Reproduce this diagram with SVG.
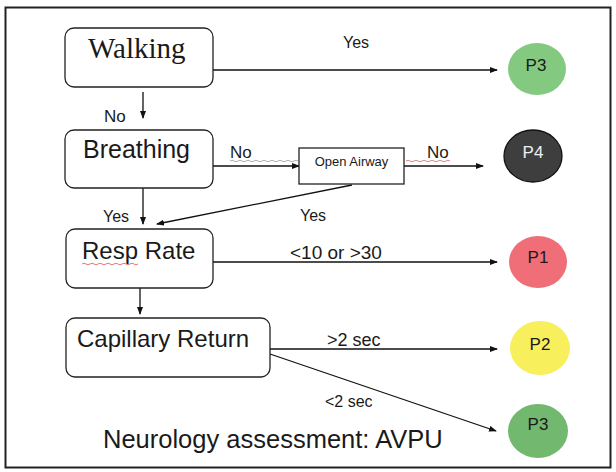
<svg xmlns="http://www.w3.org/2000/svg" width="616" height="472" viewBox="0 0 616 472">
<defs>
<marker id="ah" markerWidth="8" markerHeight="6" refX="7" refY="3" orient="auto" markerUnits="userSpaceOnUse">
<path d="M0,0 L8,3 L0,6 z" fill="#111"/>
</marker>
<style>
.box{fill:#fff;stroke:#222;stroke-width:1.3}
.t{font-family:"Liberation Sans",Arial,sans-serif;fill:#1a1a1a}
.serif{font-family:"Liberation Serif","Times New Roman",serif;fill:#1a1a1a}
.c{stroke:#111;stroke-width:1.3;fill:none;marker-end:url(#ah)}
.sq{fill:none;stroke-width:0.8}
</style>
</defs>
<rect x="0" y="0" width="616" height="472" fill="#fff"/>
<rect x="5.5" y="7.5" width="605" height="460" fill="none" stroke="#222" stroke-width="2"/>

<g id="connectors">
<line class="c" x1="213" y1="70" x2="497" y2="70"/>
<line class="c" x1="143" y1="92" x2="143" y2="118"/>
<line class="c" x1="213" y1="166" x2="299" y2="166"/>
<line class="c" x1="404" y1="166" x2="483" y2="166"/>
<line class="c" x1="143" y1="188" x2="143" y2="224"/>
<line class="c" x1="352" y1="185" x2="157" y2="224"/>
<line class="c" x1="213" y1="262" x2="497" y2="262"/>
<line class="c" x1="140" y1="288" x2="140" y2="314"/>
<line class="c" x1="270" y1="349" x2="497" y2="349"/>
<line class="c" x1="270" y1="354" x2="496" y2="431"/>
<text class="t" x="343" y="48" font-size="16">Yes</text>
<text class="t" x="104" y="122" font-size="17">No</text>
<text class="t" x="230" y="158" font-size="17">No</text>
<text class="t" x="427" y="158" font-size="17">No</text>
<text class="t" x="103" y="222" font-size="16">Yes</text>
<text class="t" x="300" y="221" font-size="16">Yes</text>
<text class="t" x="290" y="259" font-size="19">&lt;10 or &gt;30</text>
<text class="t" x="327" y="346" font-size="18">&gt;2 sec</text>
<text class="t" x="325" y="407" font-size="16">&lt;2 sec</text>
<path class="sq" stroke="#999" d="M230,161 q2,-1.5 4,0 t4,0 t4,0 t4,0 t4,0 t4,0 t4,0 t4,0 t4,0 t4,0 t4,0 t4,0 t4,0 t4,0 t4,0 t4,0 t4,0"/>
<path class="sq" stroke="#c66" d="M406,161 q2,-1.5 4,0 t4,0 t4,0 t4,0 t4,0 t4,0 t4,0 t4,0 t4,0 t4,0 t4,0"/>
</g>

<g id="walking">
<rect class="box" x="65" y="28" width="148" height="59" rx="9"/>
<text class="serif" x="88" y="58" font-size="29">Walking</text>
</g>
<g id="breathing">
<rect class="box" x="65" y="130" width="148" height="58" rx="9"/>
<text class="t" x="83" y="158" font-size="25">Breathing</text>
</g>
<g id="open-airway">
<rect class="box" x="299" y="148" width="105" height="36"/>
<text class="t" x="351.5" y="166" font-size="13" text-anchor="middle">Open Airway</text>
</g>
<g id="resp-rate">
<rect class="box" x="66" y="229" width="147" height="59" rx="9"/>
<text class="t" x="82" y="259" font-size="24">Resp Rate</text>
<path class="sq" stroke="#d55" d="M82,264 q2,-1.5 4,0 t4,0 t4,0 t4,0 t4,0 t4,0 t4,0 t4,0 t4,0 t4,0 t4,0 t4,0 t4,0 t4,0"/>
</g>
<g id="capillary-return">
<rect class="box" x="66" y="318" width="204" height="59" rx="9"/>
<text class="t" x="77" y="347" font-size="24">Capillary Return</text>
</g>
<g id="neurology">
<text class="t" x="103" y="448" font-size="25.5">Neurology assessment: AVPU</text>
</g>

<g id="p3-top">
<ellipse cx="537" cy="69" rx="29" ry="26" fill="#84c980"/>
<text class="t" x="536" y="71" font-size="17" text-anchor="middle">P3</text>
</g>
<g id="p4">
<ellipse cx="533" cy="156" rx="29" ry="26" fill="#3e3e3e" stroke="#111" stroke-width="1.3"/>
<text class="t" x="533" y="158" font-size="17" text-anchor="middle" style="fill:#eee">P4</text>
</g>
<g id="p1">
<ellipse cx="538" cy="262" rx="29" ry="26" fill="#f06e77"/>
<text class="t" x="538" y="263" font-size="17" text-anchor="middle">P1</text>
</g>
<g id="p2">
<ellipse cx="540" cy="348" rx="30" ry="27" fill="#f7ef5c"/>
<text class="t" x="540" y="350" font-size="17" text-anchor="middle">P2</text>
</g>
<g id="p3-bottom">
<ellipse cx="538" cy="431" rx="30" ry="27" fill="#72b86e"/>
<text class="t" x="538" y="430" font-size="17" text-anchor="middle">P3</text>
</g>
</svg>
